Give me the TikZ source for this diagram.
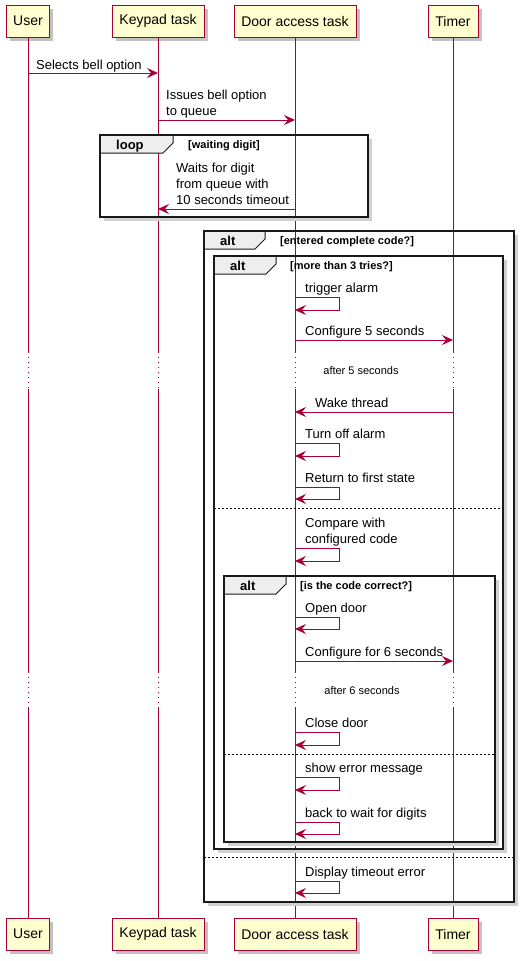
\documentclass[tikz,border=0pt]{standalone}
\usepackage{fontspec}
\setmainfont{Liberation Sans}
\usepackage{xcolor}
\usetikzlibrary{arrows.meta,shadows,calc}
\definecolor{seqred}{HTML}{A80036}
\definecolor{seqbox}{HTML}{FEFECE}
\definecolor{seqtab}{HTML}{EEEEEE}
\tikzstyle{participant}=[draw=seqred, fill=seqbox, line width=1pt, minimum height=32pt, inner sep=0pt, font=\fontsize{14}{16}\selectfont, drop shadow={shadow xshift=3.5pt, shadow yshift=-3.5pt, opacity=0.4, fill=black!60}]
\tikzstyle{lifeline}=[draw=seqred, line width=1pt]
\tikzstyle{dotline}=[dash pattern=on 1pt off 4pt]
\tikzstyle{msg}=[draw=seqred, line width=1pt, -{Stealth[length=11pt, width=10pt, inset=4pt]}]
\tikzstyle{msgtext}=[anchor=base west, inner sep=0pt, align=left, font=\fontsize{13}{16}\selectfont]
\tikzstyle{guardtext}=[anchor=base west, inner sep=0pt, font=\bfseries\fontsize{11}{13}\selectfont]
\tikzstyle{tabtext}=[anchor=base west, inner sep=0pt, font=\bfseries\fontsize{13}{15}\selectfont]
\tikzstyle{delaytext}=[anchor=base, inner sep=0pt, font=\fontsize{11}{13}\selectfont]
\tikzstyle{frame}=[draw=black!90, line width=1.8pt]
\tikzstyle{tab}=[fill=seqtab]
\tikzstyle{tabline}=[draw=black!90, line width=1pt]
\tikzstyle{separator}=[draw=black, line width=0.7pt, dash pattern=on 2pt off 2pt]
\tikzstyle{frameshadow}=[draw=black!18, line width=3pt]
\newcommand{\xUser}{28}
\newcommand{\xKeypad}{158}
\newcommand{\xDoor}{295}
\newcommand{\xTimer}{453}
\newcommand{\lifeLine}[2]{
	\draw[lifeline] (#1.south) -- (#1.south |- delayA1);
	\draw[lifeline, dotline] (#1.south |- delayA1) -- (#1.south |- delayA2);
	\draw[lifeline] (#1.south |- delayA2) -- (#1.south |- delayB1);
	\draw[lifeline, dotline] (#1.south |- delayB1) -- (#1.south |- delayB2);
	\draw[lifeline] (#1.south |- delayB2) -- (#2.north);
}
\newcommand{\seqFrame}[6]{
	\draw[frameshadow] (#3+2.5,#2+4) -- (#3+2.5,#4+2.5) -- (#1+4,#4+2.5);
	\draw[frame] (#1,#2) rectangle (#3,#4);
	\fill[tab] (#1,#2) -- (#5,#2) -- (#5,#2+8) -- (#5-10,#2+18) -- (#1,#2+18) -- cycle;
	\draw[tabline] (#5,#2) -- (#5,#2+8) -- (#5-10,#2+18) -- (#1,#2+18);
	\draw[frame] (#1,#2) rectangle (#3,#4);
	\node[tabtext] at (#1+16,#2+14.5) {#6};
}
\newcommand{\msgArrow}[4]{
	\coordinate (#1a) at (#2,#4);
	\coordinate (#1b) at (#3,#4);
	\draw[msg] (#1a) -- (#1b);
}
\newcommand{\selfArrow}[3]{
	\coordinate (#1a) at (\xDoor,#2);
	\coordinate (#1b) at (\xDoor,#3);
	\draw[msg] (#1a) -- ++(44,0) |- (#1b);
}

\begin{document}
\begin{tikzpicture}[x=1pt, y=-1pt]
	\useasboundingbox (0,0) rectangle (527,961);
	\coordinate (delayA1) at (0,352);
	\coordinate (delayA2) at (0,389);
	\coordinate (delayB1) at (0,672);
	\coordinate (delayB2) at (0,708);

	\node[participant, minimum width=43pt] (userTop) at (\xUser,21) {User};
	\node[participant, minimum width=92pt] (keypadTop) at (\xKeypad,21) {Keypad task};
	\node[participant, minimum width=122pt] (doorTop) at (\xDoor,21) {Door access task};
	\node[participant, minimum width=50pt] (timerTop) at (\xTimer,21) {Timer};
	\node[participant, minimum width=43pt] (userBot) at (\xUser,934) {User};
	\node[participant, minimum width=92pt] (keypadBot) at (\xKeypad,934) {Keypad task};
	\node[participant, minimum width=122pt] (doorBot) at (\xDoor,934) {Door access task};
	\node[participant, minimum width=50pt] (timerBot) at (\xTimer,934) {Timer};
	\lifeLine{userTop}{userBot}
	\lifeLine{keypadTop}{keypadBot}
	\lifeLine{doorTop}{doorBot}
	\lifeLine{timerTop}{timerBot}

	\seqFrame{100}{135}{368}{217}{173}{loop}
	\node[guardtext] (guardLoop) at (188,148.5) {[waiting digit]};
	\seqFrame{204}{231}{514}{902}{265}{alt}
	\node[guardtext] (guardCode) at (280,244) {[entered complete code?]};
	\seqFrame{214}{256}{503}{849}{276}{alt}
	\node[guardtext] (guardTries) at (290,269.5) {[more than 3 tries?]};
	\seqFrame{224}{576}{495}{842}{286}{alt}
	\node[guardtext] (guardCorrect) at (300,589) {[is the code correct?]};
	\draw[separator] (214,508) -- (503,508);
	\draw[separator] (224,754) -- (495,754);
	\draw[separator] (204,857) -- (514,857);

	\msgArrow{bell}{\xUser}{\xKeypad}{73}
	\node[msgtext] (bellText) at (36,69) {Selects bell option};
	\msgArrow{queue}{\xKeypad}{\xDoor}{120}
	\node[msgtext] (queueText) at (166,115.5) {Issues bell option\\to queue};
	\msgArrow{wait}{\xDoor}{\xKeypad}{209}
	\node[msgtext] (waitText) at (176,204.5) {Waits for digit\\from queue with\\10 seconds timeout};

	\selfArrow{alarm}{297}{310}
	\node[msgtext] (alarmText) at (305,292) {trigger alarm};
	\msgArrow{conf5}{\xDoor}{\xTimer}{340}
	\node[msgtext] (conf5Text) at (305,335.5) {Configure 5 seconds};
	\node[delaytext] (delay5) at (361,374) {after 5 seconds};
	\msgArrow{wake}{\xTimer}{\xDoor}{412}
	\node[msgtext] (wakeText) at (315,407.5) {Wake thread};
	\selfArrow{off}{443}{456}
	\node[msgtext] (offText) at (305,438.5) {Turn off alarm};
	\selfArrow{first}{487}{499}
	\node[msgtext] (firstText) at (305,482.5) {Return to first state};

	\selfArrow{compare}{548}{561}
	\node[msgtext] (compareText) at (305,543.5) {Compare with\\configured code};
	\selfArrow{open}{617}{629}
	\node[msgtext] (openText) at (305,612.5) {Open door};
	\msgArrow{conf6}{\xDoor}{\xTimer}{661}
	\node[msgtext] (conf6Text) at (305,656.5) {Configure for 6 seconds};
	\node[delaytext] (delay6) at (362,694) {after 6 seconds};
	\selfArrow{close}{732}{745}
	\node[msgtext] (closeText) at (305,727.5) {Close door};
	\selfArrow{error}{777}{790}
	\node[msgtext] (errorText) at (305,772.5) {show error message};
	\selfArrow{back}{822}{834}
	\node[msgtext] (backText) at (305,817.5) {back to wait for digits};
	\selfArrow{timeout}{881}{893}
	\node[msgtext] (timeoutText) at (305,876.5) {Display timeout error};
\end{tikzpicture}
\end{document}
